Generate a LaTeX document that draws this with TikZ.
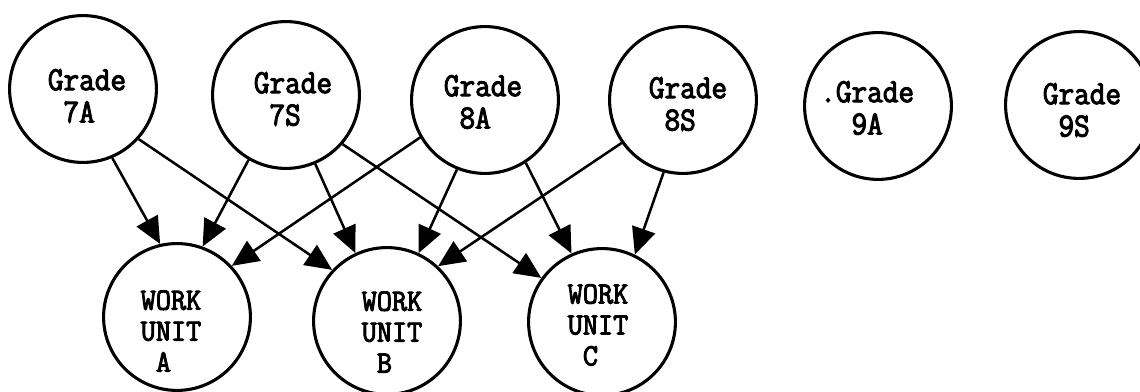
\documentclass[tikz,border=0pt]{standalone}
\usepackage{fontspec}
\usetikzlibrary{arrows.meta}
\newfontfamily\gradefont[FakeBold=3,FakeStretch=0.9]{Latin Modern Mono}
\newfontfamily\unitfont[FakeBold=3,FakeStretch=0.95]{Latin Modern Mono}
\tikzset{
  gradecirc/.style={circle, draw, line width=2.2pt, inner sep=0pt, minimum size=3.67cm},
  unitcirc/.style={gradecirc},
  gradetext/.style={align=left, inner sep=0pt, font=\gradefont\fontsize{24}{23}\selectfont},
  unittext/.style={align=left, inner sep=0pt, font=\unitfont\fontsize{22}{22}\selectfont},
  feed/.style={line width=1.8pt, -{Triangle[length=19pt,width=17pt]}}
}
\begin{document}
\begin{tikzpicture}[x=0.025cm, y=-0.025cm]
        \useasboundingbox (0,0) rectangle (1140,392);
        % 年级
        \node[gradecirc] (g7A) at (83, 89) {};
        \node[gradecirc] (g7S) at (286, 95) {};
        \node[gradecirc] (g8A) at (485, 100) {};
        \node[gradecirc] (g8S) at (683, 100) {};
        \node[gradecirc] (g9A) at (878, 106) {};
        \node[gradecirc] (g9S) at (1079, 105) {};
        \node[gradetext] (t7A) at (87, 96) {Grade\\\hphantom{0}7A};
        \node[gradetext] (t7S) at (293, 99) {Grade\\\hphantom{0}7S};
        \node[gradetext] (t8A) at (483, 102) {Grade\\\hphantom{0}8A};
        \node[gradetext] (t8S) at (688, 104) {Grade\\\hphantom{0}8S};
        \node[gradetext] (t9A) at (875, 108) {\llap{.}Grade\\\hphantom{0}9A};
        \node[gradetext] (t9S) at (1082, 110) {Grade\\\hphantom{0}9S};
        % 工作单元
        \node[unitcirc] (uA) at (177, 317) {};
        \node[unitcirc] (uB) at (387, 321) {};
        \node[unitcirc] (uC) at (602, 322) {};
        \node[unittext] (tA) at (171, 331) {WORK\\UNIT\\\hphantom{0}A};
        \node[unittext] (tB) at (392, 332) {WORK\\UNIT\\\hphantom{0}B};
        \node[unittext] (tC) at (598, 325) {WORK\\UNIT\\\hphantom{0}C};
        % 箭头
        \draw[feed] (g7A.-67) -- (uA.103);
        \draw[feed] (g7A.-42) -- (uB.137);
        \draw[feed] (g7S.-120) -- (uA.70);
        \draw[feed] (g7S.-67) -- (uB.115);
        \draw[feed] (g7S.-41) -- (uC.144);
        \draw[feed] (g8A.-150) -- (uA.43);
        \draw[feed] (g8A.-112) -- (uB.65);
        \draw[feed] (g8A.-57) -- (uC.114);
        \draw[feed] (g8S.-145) -- (uB.47);
        \draw[feed] (g8S.-105) -- (uC.64);
    \end{tikzpicture}
\end{document}
